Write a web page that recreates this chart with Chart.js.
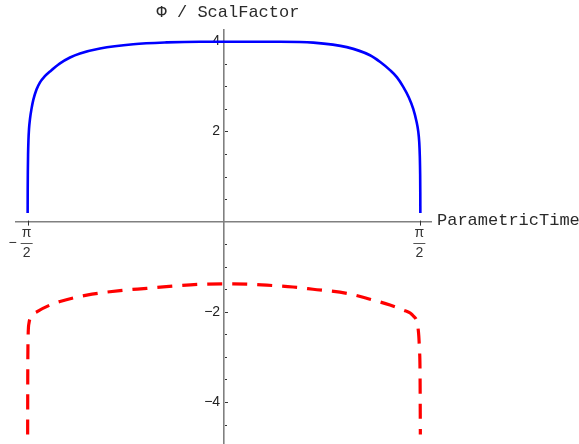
<!DOCTYPE html>
<html>
<head>
<meta charset="utf-8">
<script src="https://cdn.jsdelivr.net/npm/chart.js@4.4.1/dist/chart.umd.min.js"></script>
<style>
  html, body { margin: 0; padding: 0; background: #ffffff; }
  #wrap { width: 579px; height: 444px; position: relative; }
</style>
</head>
<body>
<div id="wrap"><canvas id="c" width="579" height="444"></canvas></div>
<script>
// ---- data ----
const blueX = [-1.5708, -1.5703, -1.5693, -1.5675, -1.5645, -1.5600, -1.5520, -1.5400, -1.5256, -1.5000, -1.4720, -1.4350, -1.3920, -1.3120, -1.2320, -1.1520, -0.9920, -0.7260, -0.4580, -0.1920, 0.0, 0.448, 0.715, 0.982, 1.168, 1.250, 1.328, 1.384, 1.434, 1.478, 1.514, 1.540, 1.554, 1.562, 1.5665, 1.5692, 1.5703, 1.5708];
const blueY = [0.19, 0.70, 1.10, 1.48, 1.80, 2.05, 2.28, 2.50, 2.70, 2.93, 3.09, 3.22, 3.33, 3.51, 3.64, 3.73, 3.84, 3.935, 3.975, 3.99, 3.99, 3.99, 3.97, 3.87, 3.69, 3.54, 3.36, 3.20, 2.99, 2.76, 2.50, 2.22, 2.00, 1.76, 1.45, 1.05, 0.65, 0.19];

const redX = [-1.5708, -1.5700, -1.5676, -1.560, -1.540, -1.498, -1.392, -1.312, -1.098, -0.832, -0.618, -0.408, -0.192, 0.072, 0.342, 0.552, 0.712, 0.982, 1.168, 1.328, 1.432, 1.514, 1.554, 1.5636, 1.5685, 1.5708];
const redY = [-4.72, -3.51, -2.62, -2.25, -2.09, -2.00, -1.85, -1.77, -1.63, -1.53, -1.48, -1.43, -1.39, -1.38, -1.41, -1.45, -1.50, -1.59, -1.72, -1.85, -1.96, -2.09, -2.40, -2.84, -3.40, -4.72];

const xTickValues = [-Math.PI / 2, Math.PI / 2];
const xTickNumerators = ['π', 'π'];
const xTickDenominators = ['2', '2'];
const xTickSigns = ['−', ''];

const yTickValues = [-4.5, -4, -3.5, -3, -2.5, -2, -1.5, -1, -0.5, 0.5, 1, 1.5, 2, 2.5, 3, 3.5, 4];
const yLabelValues = [-4, -2, 2, 4];
const yLabelTexts = ['−4', '−2', '2', '4'];

const xAxisTitle = 'ParametricTime';
const yAxisTitle = 'Φ / ScalFactor';

const X_MIN = -1.664, X_MAX = 1.656;
const Y_MIN = -4.91, Y_MAX = 4.25;

function pts(xs, ys) { return xs.map((x, i) => ({ x: x, y: ys[i] })); }

const AXIS_COLOR = '#808080';
const TEXT_COLOR = '#222222';

const decorPlugin = {
  id: 'decor',
  beforeDatasetsDraw(chart) {
    const ctx = chart.ctx;
    const xs = chart.scales.x, ys = chart.scales.y;
    const x0 = xs.getPixelForValue(0);
    const y0 = ys.getPixelForValue(0);
    ctx.save();
    // y tick marks (pointing right of the axis)
    ctx.strokeStyle = '#333333';
    ctx.lineWidth = 1;
    yTickValues.forEach(v => {
      const py = Math.round(ys.getPixelForValue(v)) + 0.5;
      const major = yLabelValues.indexOf(v) >= 0;
      ctx.beginPath();
      ctx.moveTo(x0 + 1, py);
      ctx.lineTo(x0 + (major ? 4 : 3), py);
      ctx.stroke();
    });
    // x tick marks
    xTickValues.forEach(v => {
      const px = Math.round(xs.getPixelForValue(v)) + 0.5;
      ctx.beginPath();
      ctx.moveTo(px, y0 - 1);
      ctx.lineTo(px, y0 + 4);
      ctx.stroke();
    });
    // x tick labels as fractions
    ctx.fillStyle = '#333333';
    xTickValues.forEach((v, i) => {
      const px = xs.getPixelForValue(v) - 1;
      const barY = y0 + 21;
      ctx.font = '14px "Liberation Sans"';
      ctx.textAlign = 'center';
      ctx.textBaseline = 'middle';
      ctx.fillText(xTickNumerators[i], px, barY - 9);
      ctx.fillText(xTickDenominators[i], px, barY + 11);
      ctx.strokeStyle = '#555555';
      ctx.lineWidth = 1;
      ctx.beginPath();
      ctx.moveTo(px - 6, Math.round(barY) + 0.5);
      ctx.lineTo(px + 6, Math.round(barY) + 0.5);
      ctx.stroke();
      if (xTickSigns[i]) {
        ctx.textAlign = 'right';
        ctx.fillText(xTickSigns[i], px - 10, barY + 0.5);
      }
    });
    // axis titles
    ctx.font = '17px "Liberation Mono"';
    ctx.fillStyle = '#2a2a2a';
    ctx.textAlign = 'left';
    ctx.textBaseline = 'middle';
    ctx.fillText(xAxisTitle, xs.right + 6, y0 - 1);
    ctx.textAlign = 'center';
    ctx.fillText(yAxisTitle, x0 + 4, 12);
    ctx.restore();
  }
};

new Chart(document.getElementById('c'), {
  type: 'scatter',
  data: {
    datasets: [
      {
        label: 'blue',
        data: pts(blueX, blueY),
        showLine: true,
        borderColor: '#0000ff',
        borderWidth: 2.6,
        pointRadius: 0,
        cubicInterpolationMode: 'monotone',
        fill: false
      },
      {
        label: 'red',
        data: pts(redX, redY),
        showLine: true,
        borderColor: '#ff0000',
        borderWidth: 3.2,
        borderDash: [15, 10],
        pointRadius: 0,
        cubicInterpolationMode: 'monotone',
        fill: false
      }
    ]
  },
  options: {
    responsive: false,
    animation: false,
    devicePixelRatio: 1,
    layout: { padding: { left: 16, right: 148, top: 30, bottom: 1 } },
    plugins: {
      legend: { display: false },
      tooltip: { enabled: false },
      title: { display: false }
    },
    scales: {
      x: {
        type: 'linear',
        min: X_MIN,
        max: X_MAX,
        position: { y: 0 },
        grid: { display: false, drawTicks: false },
        border: { display: true, color: AXIS_COLOR, width: 1.6 },
        ticks: { display: false },
        afterBuildTicks(scale) { scale.ticks = xTickValues.map(v => ({ value: v })); }
      },
      y: {
        type: 'linear',
        min: Y_MIN,
        max: Y_MAX,
        position: { x: 0 },
        grid: { display: false, drawTicks: false },
        border: { display: true, color: AXIS_COLOR, width: 1.6 },
        ticks: {
          display: true,
          autoSkip: false,
          color: TEXT_COLOR,
          font: { family: '"Liberation Sans"', size: 14, lineHeight: '1px' },
          padding: 0,
          callback(value) {
            const k = yLabelValues.indexOf(value);
            return k >= 0 ? yLabelTexts[k] + ' ' : '';
          }
        },
        afterBuildTicks(scale) { scale.ticks = yLabelValues.map(v => ({ value: v })); }
      }
    }
  },
  plugins: [decorPlugin]
});
</script>
</body>
</html>
